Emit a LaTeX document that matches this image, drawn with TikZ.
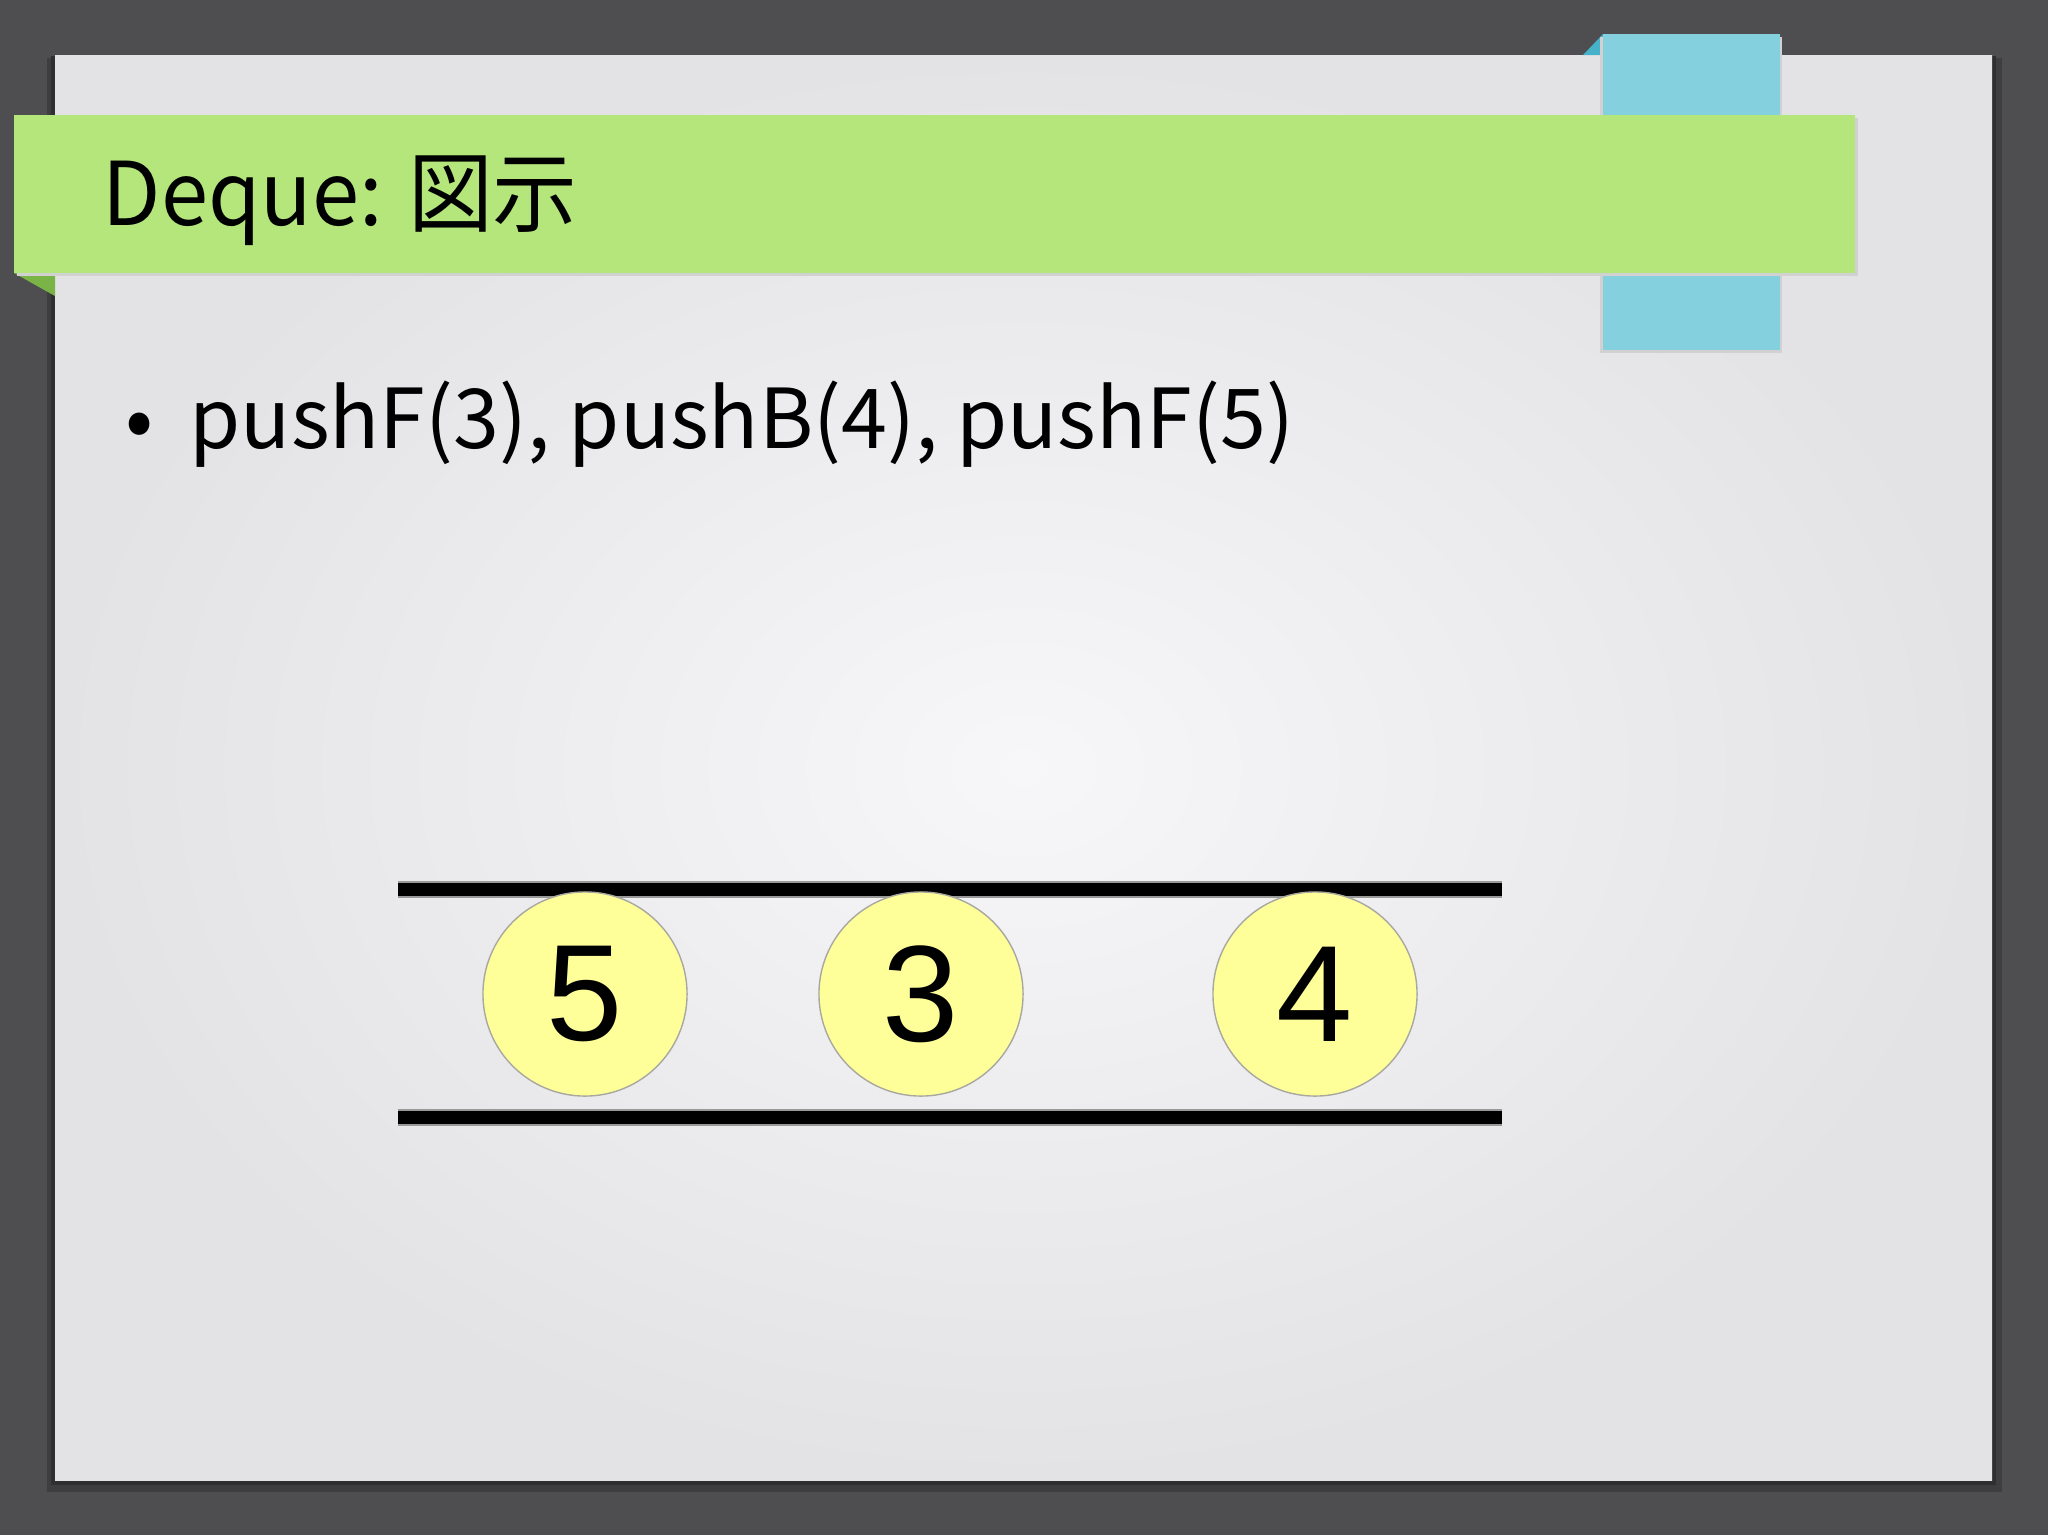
\documentclass[tikz,border=0pt]{standalone}
\usepackage{fontspec}
\setmainfont{Noto Sans CJK JP}
\newfontfamily\numfont{Liberation Sans}
\usetikzlibrary{positioning}

\definecolor{bgdark}{HTML}{4E4E50}
\definecolor{paperin}{HTML}{F7F7F9}
\definecolor{paperout}{HTML}{E3E3E5}
\definecolor{bandgreen}{HTML}{B4E67C}
\definecolor{greenfold}{HTML}{7AB447}
\definecolor{tabblue}{HTML}{85D0DE}
\definecolor{bluefold}{HTML}{45B2CA}
\definecolor{ballfill}{HTML}{FFFF99}
\definecolor{ballrim}{HTML}{A8A8A0}

\tikzset{
	headtext/.style={anchor=base west,inner sep=0pt,font=\fontsize{25}{30}\selectfont},
	bodytext/.style={anchor=base west,inner sep=0pt,font=\fontsize{23.5}{28}\selectfont},
	ball/.style={circle,draw=ballrim,line width=0.4pt,fill=ballfill,minimum size=2.04cm,inner sep=0pt,font=\numfont\fontsize{39}{40}\selectfont},
	railedge/.style={line width=0.17cm,draw=black!40},
	rail/.style={line width=0.13cm,draw=black}
}

\begin{document}
\begin{tikzpicture}[x=0.01cm,y=-0.01cm]

	\useasboundingbox (0,0) rectangle (2048,1535);
	\fill[bgdark] (0,0) rectangle (2048,1535);
	\fill[black!20!bgdark] (47,58) rectangle (2002,1492);
	\fill[black!40!bgdark] (51,56) rectangle (1996,1485);
	\shade[inner color=paperin,outer color=paperout] (55,55) rectangle (1992,1480);

	\fill[bluefold] (1583,55) -- (1603,34) -- (1603,55) -- cycle;
	\fill[black!18] (1600,37) rectangle (1782,353);
	\fill[tabblue] (1603,34) rectangle (1780,350);

	\fill[greenfold] (14,273) -- (55,273) -- (55,296) -- cycle;
	\fill[black!18] (17,118) rectangle (1858,276);
	\fill[bandgreen] (14,115) rectangle (1855,273);

	\node[headtext] (head) at (102,225) {\scalebox{0.965}[1]{Deque: 図示}};

	\node[anchor=base,inner sep=0pt,font=\fontsize{23.5}{28}\selectfont] (dot) at (140,448) {•};
	\node[bodytext] (ops) at (189,448) {pushF(3), pushB(4), pushF(5)};

	\coordinate (topL) at (398,889);
	\coordinate (topR) at (1502,889);
	\coordinate (botL) at (398,1117);
	\coordinate (botR) at (1502,1117);
	\draw[railedge] (topL) -- (topR);
	\draw[rail] (topL) -- (topR);
	\draw[railedge] (botL) -- (botR);
	\draw[rail] (botL) -- (botR);

	\node[ball] (five) at (585,994) {5};
	\node[ball] (three) at (921,994) {3};
	\node[ball] (four) at (1315,994) {4};

\end{tikzpicture}
\end{document}
